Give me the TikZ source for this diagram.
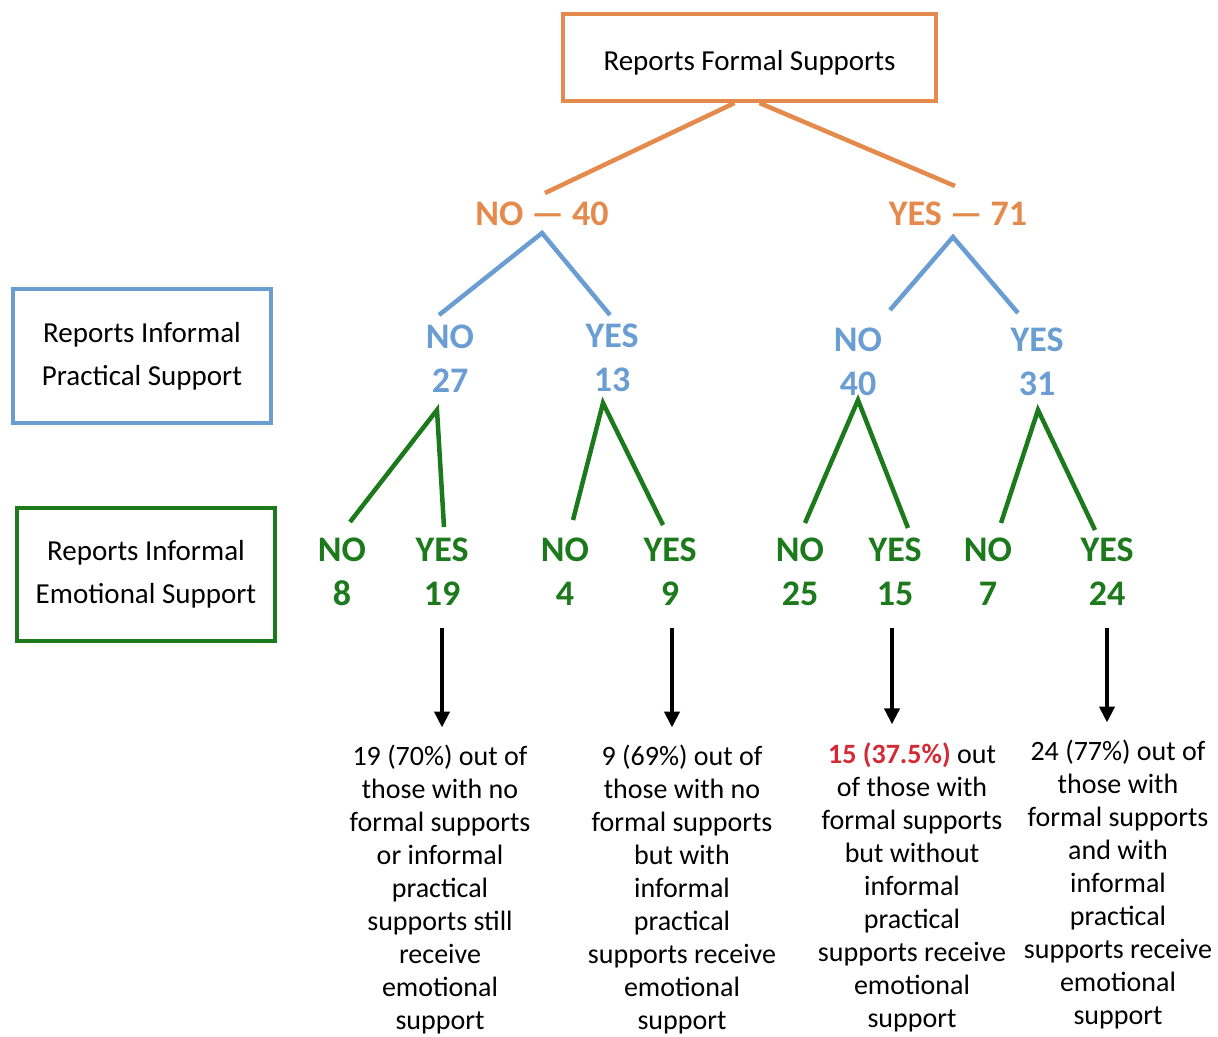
\documentclass[tikz,border=0pt]{standalone}
\usepackage{fontspec}
\setmainfont{Carlito}
\usepackage{xcolor}
\usetikzlibrary{arrows.meta}
\definecolor{fsorange}{HTML}{E48A4C}
\definecolor{ipblue}{HTML}{6A9ED3}
\definecolor{iegreen}{HTML}{1C7A1C}
\definecolor{hired}{HTML}{D42A35}
\tikzset{
  keybox/.style = {draw, line width=4pt, align=center, inner sep=0pt,
    font=\fontsize{29}{43}\selectfont},
  fs_box/.style = {keybox, draw=fsorange, minimum width=373pt,
    minimum height=87pt, text height=28pt, text depth=2pt},% formal supports
  ip_box/.style = {keybox, draw=ipblue, minimum width=258pt,
    minimum height=134pt},% informal practical
  ie_box/.style = {keybox, draw=iegreen, minimum width=258pt,
    minimum height=133pt},% informal emotional
  answer/.style = {align=center, inner sep=0pt,
    font=\fontsize{36}{44}\selectfont\bfseries},
  fs_ans/.style = {answer, text=fsorange},
  ip_ans/.style = {answer, text=ipblue},
  ie_ans/.style = {answer, text=iegreen},
  branch/.style = {line width=4.5pt},
  outcome/.style = {align=center, inner sep=0pt, outer ysep=18pt,
    font=\fontsize{28}{33}\selectfont},
  outarrow/.style = {-{Triangle[width=15pt,length=16pt]}, line width=4.5pt}
}
\begin{document}
\begin{tikzpicture}[x=1pt,y=-1pt]
\useasboundingbox (0,0) rectangle (1218,1036);
% keys
\node [fs_box] (top) at (749.5,57.5) {Reports Formal Supports};
\node [ip_box] (ipkey) at (142,356) {Reports Informal\\Practical Support};
\node [ie_box] (iekey) at (146,574.5) {Reports Informal\\Emotional Support};
% formal
\node [fs_ans] (no1) at (542,214) {NO --- 40};
\node [fs_ans] (yes1) at (958,214) {YES --- 71};
% practical
\node [ip_ans] (no2a) at (450,359) {NO\\27};
\node [ip_ans] (yes2a) at (612,358) {YES\\13};
\node [ip_ans] (no2b) at (858,362) {NO\\40};
\node [ip_ans] (yes2b) at (1037,362) {YES\\31};
% emotional
\node [ie_ans] (no3a) at (342,572) {NO\\8};
\node [ie_ans] (yes3a) at (442,572) {YES\\19};
\node [ie_ans] (no3b) at (565,572) {NO\\4};
\node [ie_ans] (yes3b) at (670,572) {YES\\9};
\node [ie_ans] (no3c) at (800,572) {NO\\25};
\node [ie_ans] (yes3c) at (895,572) {YES\\15};
\node [ie_ans] (no3d) at (988,572) {NO\\7};
\node [ie_ans] (yes3d) at (1107,572) {YES\\24};
% outcomes
\node [outcome] (out1) at (440,890) {19 (70\%) out of\\those with no\\formal supports\\or informal\\practical\\supports still\\receive\\emotional\\support};
\node [outcome] (out2) at (682,890) {9 (69\%) out of\\those with no\\formal supports\\but with\\informal\\practical\\supports receive\\emotional\\support};
\node [outcome] (out3) at (912,887) {{\bfseries\color{hired}15 (37.5\%)} out\\of those with\\formal supports\\but without\\informal\\practical\\supports receive\\emotional\\support};
\node [outcome] (out4) at (1118,885) {24 (77\%) out of\\those with\\formal supports\\and with\\informal\\practical\\supports receive\\emotional\\support};

\draw [branch, fsorange] ([xshift=-15pt]top.south) -- ([shift={(3,-21)}]no1.center);
\draw [branch, fsorange] ([xshift=10pt]top.south) -- ([shift={(-3,-28)}]yes1.center);

\draw [branch, ipblue] ([shift={(-11,-44)}]no2a.center) -- ([shift={(0,19)}]no1.center)
  -- ([shift={(-2,-43)}]yes2a.center);
\draw [branch, ipblue] ([shift={(32,-52)}]no2b.center) -- ([shift={(-5,23)}]yes1.center)
  -- ([shift={(-19,-49)}]yes2b.center);

\draw [branch, iegreen] ([shift={(8,-50)}]no3a.center) -- ([shift={(-13,51)}]no2a.center)
  -- ([shift={(2,-45)}]yes3a.center);
\draw [branch, iegreen] ([shift={(8,-52)}]no3b.center) -- ([shift={(-9,45)}]yes2a.center)
  -- ([shift={(-7,-47)}]yes3b.center);
\draw [branch, iegreen] ([shift={(5,-49)}]no3c.center) -- ([shift={(0,38)}]no2b.center)
  -- ([shift={(13,-44)}]yes3c.center);
\draw [branch, iegreen] ([shift={(13,-49)}]no3d.center) -- ([shift={(1,48)}]yes2b.center)
  -- ([shift={(-12,-42)}]yes3d.center);

\draw [outarrow] ([yshift=-22pt]yes3a.south) -- (yes3a.south |- out1.north);
\draw [outarrow] ([shift={(2,0)},yshift=-22pt]yes3b.south) -- ([xshift=2pt]yes3b.south |- out2.north);
\draw [outarrow] ([shift={(-3,0)},yshift=-22pt]yes3c.south) -- ([xshift=-3pt]yes3c.south |- out3.north);
\draw [outarrow] ([yshift=-22pt]yes3d.south) -- (yes3d.south |- out4.north);
\end{tikzpicture}
\end{document}
